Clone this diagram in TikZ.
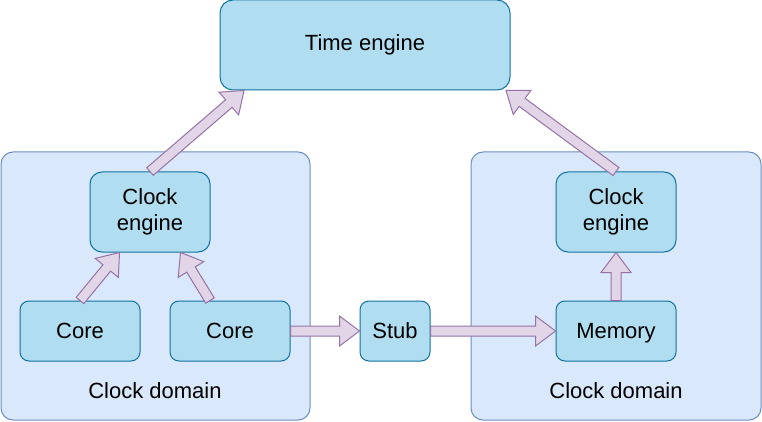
\documentclass[tikz,border=0pt]{standalone}
\usepackage{fontspec}
\setmainfont{Liberation Sans}
\usetikzlibrary{calc}
\definecolor{nodefill}{HTML}{B1DDF0}
\definecolor{nodeline}{HTML}{10739E}
\definecolor{domfill}{HTML}{DAE8FC}
\definecolor{domline}{HTML}{6C8EBF}
\definecolor{arrfill}{HTML}{E1D5E7}
\definecolor{arrline}{HTML}{9673A6}
\tikzset{
  box/.style={draw=nodeline, fill=nodefill, line width=1pt, rounded corners=#1,
    inner sep=0pt, align=center, font=\fontsize{22}{26.5}\selectfont},
  box/.default=9pt,
  domainbox/.style={draw=domline, fill=domfill, line width=1pt, rounded corners=12pt, inner sep=0pt},
  lbl/.style={inner sep=0pt, font=\fontsize{22}{26.5}\selectfont},
  arrowbody/.style={draw=arrline, fill=arrfill, line width=1pt, line join=miter}
}
\newcommand{\blockarrow}[2]{%
  \coordinate (tmpH) at ($(#2)!20pt!(#1)$);
  \filldraw[arrowbody] ($(#1)!5pt!90:(#2)$) -- ($(tmpH)!5pt!90:(#2)$) -- ($(tmpH)!15pt!90:(#2)$)
    -- (#2) -- ($(tmpH)!15pt!-90:(#2)$) -- ($(tmpH)!5pt!-90:(#2)$) -- ($(#1)!5pt!-90:(#2)$) -- cycle;
}
\begin{document}
\begin{tikzpicture}[x=1pt, y=-1pt]
\useasboundingbox (0,0) rectangle (762,422);
% domains
\node[domainbox, minimum width=309pt, minimum height=268pt] (dl) at (155.5,286) {};
\node[domainbox, minimum width=290pt, minimum height=268pt] (dr) at (616,286) {};
\node[lbl] (dll) at (155,391) {Clock domain};
\node[lbl] (drl) at (616,391) {Clock domain};
% nodes
\node[box=13pt, minimum width=290pt, minimum height=90pt] (te) at (365,45) {Time engine};
\node[box=12pt, minimum width=120pt, minimum height=80pt] (ce1) at (150,212) {Clock\\engine};
\node[box=12pt, minimum width=120pt, minimum height=80pt] (ce2) at (616,212) {Clock\\engine};
\node[box, minimum width=120pt, minimum height=60pt] (c1) at (80,331) {Core};
\node[box, minimum width=120pt, minimum height=60pt] (c2) at (230,331) {Core};
\node[box, minimum width=70pt, minimum height=60pt] (stub) at (395,331) {Stub};
\node[box, minimum width=120pt, minimum height=60pt, text depth=0pt] (mem) at (616,331) {Memory};
% arrow end points
\coordinate (a1s) at (ce1.north);
\coordinate (a1e) at ($(te.south west)+(24.5,0)$);
\coordinate (a2s) at (ce2.north);
\coordinate (a2e) at ($(te.south east)+(-4.5,0)$);
\coordinate (a3s) at ($(c1.north)+(0,0)$);
\coordinate (a3e) at ($(ce1.south west)+(30,0)$);
\coordinate (a4s) at ($(c2.north)+(-20,0)$);
\coordinate (a4e) at ($(ce1.south east)+(-30,0)$);
\coordinate (a5s) at (c2.east);
\coordinate (a5e) at (stub.west);
\coordinate (a6s) at (stub.east);
\coordinate (a6e) at (mem.west);
\coordinate (a7s) at (mem.north);
\coordinate (a7e) at (ce2.south);
\blockarrow{a1s}{a1e}
\blockarrow{a2s}{a2e}
\blockarrow{a3s}{a3e}
\blockarrow{a4s}{a4e}
\blockarrow{a5s}{a5e}
\blockarrow{a6s}{a6e}
\blockarrow{a7s}{a7e}
\end{tikzpicture}
\end{document}
